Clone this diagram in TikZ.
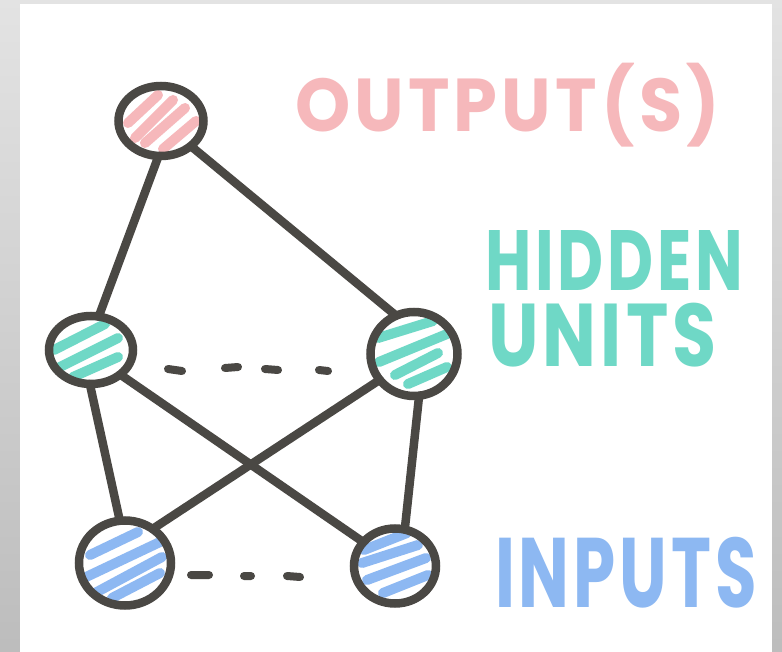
\documentclass[tikz,border=0pt]{standalone}
\usepackage{fontspec}
\usepackage{graphicx}
\usetikzlibrary{shapes.geometric}
\newfontfamily\handfont{Poppins}[LetterSpace=6]

\definecolor{ink}{HTML}{4A4844}
\definecolor{pinkc}{HTML}{F6B8BB}
\definecolor{tealc}{HTML}{6FD8C6}
\definecolor{bluec}{HTML}{8DB8F2}

\tikzset{
  unit/.style={ellipse, draw=ink, line width=8.5pt, inner sep=0pt, outer sep=0pt},
  wire/.style={draw=ink, line width=8.5pt, line cap=round},
  hatch/.style={draw=#1, line width=10pt, line cap=round},
  dots/.style={draw=ink, line width=8pt, line cap=round},
  tag/.style={anchor=north west, inner sep=0pt, outer sep=0pt}
}

\begin{document}
\begin{tikzpicture}[x=1pt,y=-1pt]
  % paper and grey surround
  \shade[top color=black!11, bottom color=black!26] (0,0) rectangle (782,652);
  \fill[white] (20,4) rectangle (772,652);
  \useasboundingbox (0,0) rectangle (782,652);

  % hatching inside the units
  \draw[hatch=pinkc, shift={(161,121)}]
    (-33,2)--(-3,-26) (-26,17)--(12,-21) (-16,22)--(24,-13) (2,28)--(35,0);
  \draw[hatch=tealc, shift={(91,350)}]
    (-37,0)--(14,-26) (-33,18)--(27,-12) (-18,27)--(27,7);
  \draw[hatch=tealc, shift={(414,354)}]
    (-36,-16)--(19,-33) (-35,8)--(33,-20) (-19,21)--(24,-1) (-6,30)--(33,13);
  \draw[hatch=bluec, shift={(125,563)}]
    (-35,-8)--(13,-31) (-41,15)--(35,-21) (-30,30)--(37,-6) (-13,35)--(35,10);
  \draw[hatch=bluec, shift={(395,566)}]
    (-31,-16)--(12,-33) (-33,-3)--(23,-21) (-28,14)--(31,-8) (-12,27)--(33,9);

  % units
  \node[unit, minimum width=85pt, minimum height=70pt] (out) at (161,121) {};
  \node[unit, minimum width=84pt, minimum height=68pt] (hl) at (91,350) {};
  \node[unit, minimum width=87pt, minimum height=84pt] (hr) at (414,354) {};
  \node[unit, minimum width=92pt, minimum height=85pt] (il) at (125,563) {};
  \node[unit, minimum width=82pt, minimum height=75pt] (ir) at (395,566) {};

  % connections
  \draw[wire] (out.266) -- (hl.77);
  \draw[wire] (out.320) -- (hr.115);
  \draw[wire] (hl.268) -- (il.97);
  \draw[wire] (hl.320) -- (ir.143);
  \draw[wire] (hr.217) -- (il.51);
  \draw[wire] (hr.277) -- (ir.75);

  % ellipsis marks between units
  \draw[dots] (168,369)--(182,371) (225,368)--(238,367) (265,369)--(278,370) (319,370)--(328,371);
  \draw[dots] (191,575)--(209,575) (244,576)--(251,576) (287,576)--(300,577);

  % labels
  \node[tag, text=pinkc] (lout) at (295,63)
    {\resizebox*{425pt}{84pt}{\handfont\bfseries OUTPUT(S)}};
  \node[tag, text=tealc] (lhid) at (485,230)
    {\vbox{\offinterlineskip
      \hbox{\resizebox*{258pt}{60pt}{\handfont\bfseries HIDDEN}}
      \kern13pt
      \hbox{\kern3pt\resizebox*{229pt}{64pt}{\handfont\bfseries UNITS}}}};
  \node[tag, text=bluec] (linp) at (495,537)
    {\resizebox*{262pt}{71pt}{\handfont\bfseries INPUTS}};
\end{tikzpicture}
\end{document}
